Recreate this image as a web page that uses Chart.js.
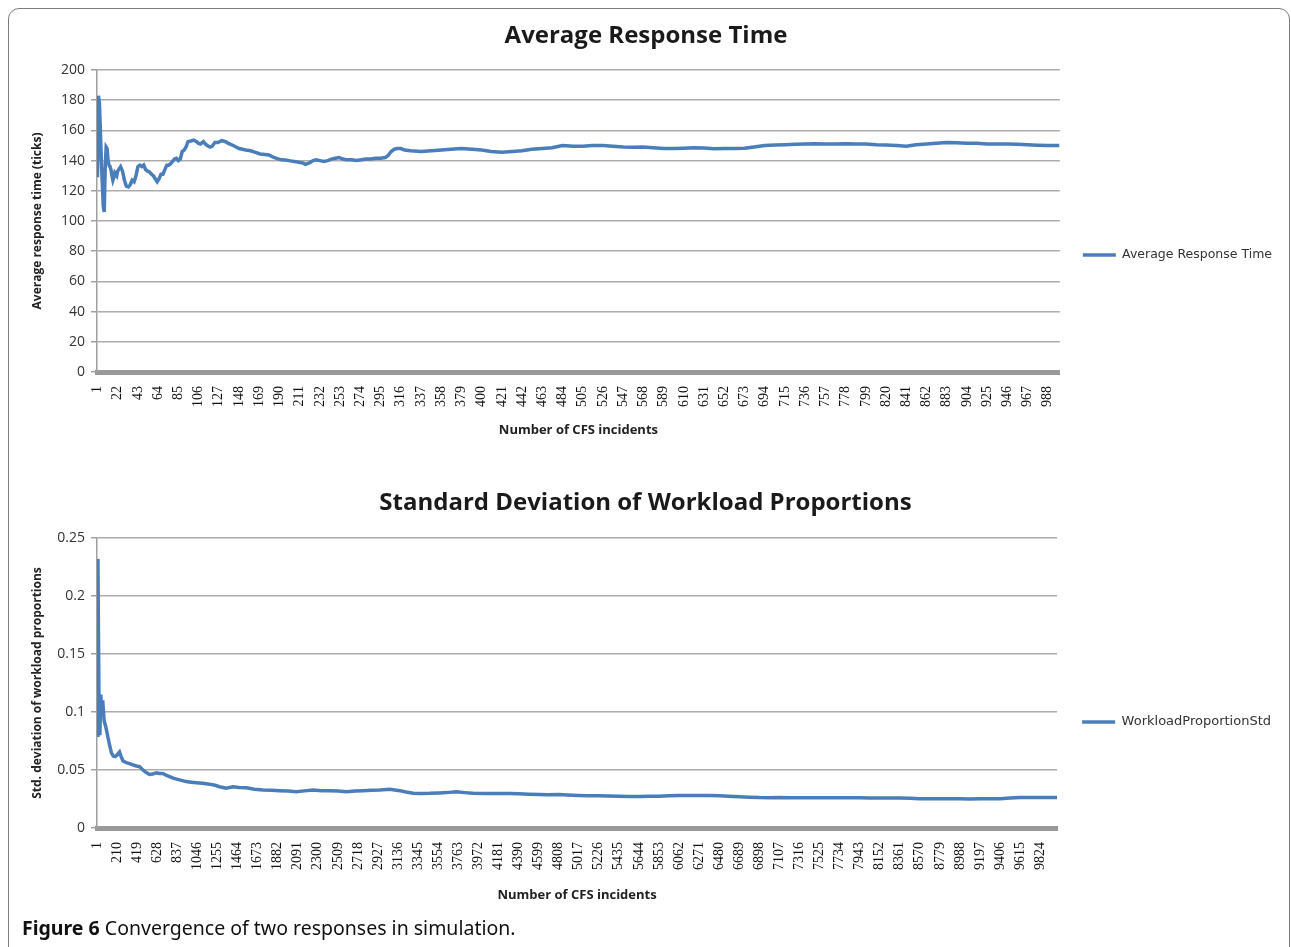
<!DOCTYPE html>
<html>
<head>
<meta charset="utf-8">
<title>Convergence of two responses in simulation</title>
<script src="https://cdn.jsdelivr.net/npm/chart.js@4.4.1/dist/chart.umd.min.js"></script>
<style>
  html, body { margin: 0; padding: 0; background: #fff; width: 1291px; height: 947px; overflow: hidden; }
  .frame { position: absolute; left: 8px; top: 8px; width: 1282px; height: 980px; border: 1.5px solid #7d7d7d; border-radius: 11px; box-sizing: border-box; }
  canvas { position: absolute; left: 10px; }
  #responseChart { top: 12px; }
  #workloadChart { top: 485px; }
  .caption { position: absolute; left: 22px; top: 914px; font-family: "Noto Sans", sans-serif; font-size: 19.5px; color: #111; white-space: nowrap; }
  .caption b { font-weight: 700; }
</style>
</head>
<body>
<div class="frame"></div>
<canvas id="responseChart" width="1280" height="486"></canvas>
<canvas id="workloadChart" width="1280" height="474"></canvas>
<div class="caption"><b>Figure 6</b> Convergence of two responses in simulation.</div>
<script>
// ---- Average response time (ticks) vs. number of CFS incidents ----
const responseTicks = [1, 22, 43, 64, 85, 106, 127, 148, 169, 190, 211, 232, 253, 274, 295, 316,
  337, 358, 379, 400, 421, 442, 463, 484, 505, 526, 547, 568, 589, 610, 631, 652, 673, 694, 715,
  736, 757, 778, 799, 820, 841, 862, 883, 904, 925, 946, 967, 988];

const responseX = [1, 2, 3, 4, 5, 6, 7, 8, 9, 10, 11, 12, 13, 14, 15, 16, 17, 18, 19, 20, 21, 22,
  24, 25, 27, 29, 31, 33, 35, 37, 39, 41, 43, 45, 47, 49, 51, 53, 55, 57, 59, 61, 63, 65, 67, 69,
  71, 73, 75, 77, 79, 81, 83, 85, 87, 89, 91, 93, 95, 98, 101, 104, 106, 108, 111, 113, 115, 118,
  120, 123, 126, 130, 134, 137, 142, 148, 155, 160, 165, 170, 175, 179, 183, 187, 192, 196, 200,
  204, 207, 211, 214, 217, 221, 225, 228, 232, 236, 240, 244, 248, 252, 256, 260, 265, 270, 275,
  280, 285, 290, 295, 300, 303, 306, 309, 312, 316, 320, 326, 337, 348, 358, 368, 379, 390, 400,
  410, 421, 432, 442, 452, 463, 473, 484, 495, 505, 515, 526, 536, 547, 557, 568, 578, 589, 600,
  610, 620, 631, 641, 652, 662, 673, 683, 694, 705, 715, 726, 736, 746, 757, 767, 778, 788, 799,
  810, 820, 831, 841, 851, 862, 872, 883, 893, 904, 914, 925, 935, 946, 956, 967, 977, 988, 1000];

const responseY = [129, 183, 178, 160, 140, 125, 110, 106, 135, 149, 148, 140, 137, 136, 134, 130,
  127, 129, 132, 131, 130, 133, 135, 136, 133, 127, 123, 122.5, 124, 127, 126, 130, 136, 137, 136,
  137, 134, 133, 132.5, 131, 130, 128, 126, 128, 131, 131, 134, 137, 137, 138, 139.5, 141, 141.5,
  140, 141, 146, 147, 149, 152.5, 153, 153.6, 152.5, 151.4, 151, 152.5, 151, 150, 149, 149.5, 152,
  152, 153.2, 152.5, 151.4, 150, 148, 147, 146.5, 145.5, 144.4, 144, 143.7, 142.5, 141.5, 140.5,
  140.4, 140, 139.5, 139.3, 138.7, 138.5, 137.5, 138.5, 140, 140.5, 140, 139.5, 140, 141, 141.5,
  142, 141, 140.5, 140.5, 140, 140.5, 141, 141, 141.5, 141.5, 142, 143.5, 146, 147.5, 148, 148,
  147, 146.5, 146, 146.5, 147, 147.5, 148, 147.5, 147, 146, 145.5, 146, 146.5, 147.5, 148, 148.5,
  150, 149.5, 149.5, 150, 150, 149.5, 149, 148.8, 149, 148.5, 148, 148, 148.2, 148.5, 148.3, 147.8,
  148, 148, 148.2, 149, 150, 150.3, 150.5, 150.8, 151, 151.2, 151, 151, 151.2, 151, 151, 150.5,
  150.3, 150, 149.5, 150.5, 151, 151.5, 152, 151.8, 151.5, 151.5, 151, 151, 151, 150.8, 150.5,
  150.2, 150, 150];

// ---- Standard deviation of workload proportions vs. number of CFS incidents ----
const workloadTicks = [1, 210, 419, 628, 837, 1046, 1255, 1464, 1673, 1882, 2091, 2300, 2509,
  2718, 2927, 3136, 3345, 3554, 3763, 3972, 4181, 4390, 4599, 4808, 5017, 5226, 5435, 5644, 5853,
  6062, 6271, 6480, 6689, 6898, 7107, 7316, 7525, 7734, 7943, 8152, 8361, 8570, 8779, 8988, 9197,
  9406, 9615, 9824];

const workloadX = [1, 10, 20, 30, 40, 50, 60, 75, 90, 110, 130, 150, 170, 190, 210, 235, 250, 270,
  300, 340, 374, 410, 443, 478, 510, 547, 580, 617, 650, 686, 720, 756, 800, 860, 930, 980, 1034,
  1100, 1173, 1230, 1277, 1347, 1416, 1480, 1556, 1640, 1729, 1820, 1903, 1990, 2077, 2160, 2250,
  2340, 2424, 2510, 2598, 2690, 2772, 2860, 2946, 3050, 3154, 3220, 3293, 3380, 3467, 3560, 3641,
  3745, 3830, 3919, 4050, 4181, 4300, 4390, 4500, 4599, 4700, 4808, 4900, 5017, 5120, 5226, 5330,
  5435, 5540, 5644, 5750, 5853, 5960, 6062, 6170, 6271, 6380, 6480, 6580, 6689, 6800, 6898, 7000,
  7107, 7210, 7316, 7420, 7525, 7630, 7734, 7840, 7943, 8050, 8152, 8260, 8361, 8470, 8570, 8680,
  8779, 8880, 8988, 9090, 9197, 9300, 9406, 9510, 9615, 9720, 9824, 9920, 10000];

const workloadY = [0.08, 0.232, 0.12, 0.08, 0.115, 0.098, 0.11, 0.092, 0.088, 0.08, 0.072, 0.065,
  0.062, 0.0615, 0.063, 0.0655, 0.062, 0.058, 0.0565, 0.0555, 0.0545, 0.0535, 0.053, 0.05, 0.048,
  0.0462, 0.0465, 0.0475, 0.047, 0.047, 0.0455, 0.0443, 0.0428, 0.0415, 0.04, 0.0395, 0.039,
  0.0385, 0.0378, 0.0368, 0.0356, 0.0343, 0.0355, 0.035, 0.0347, 0.0335, 0.0328, 0.0325, 0.0322,
  0.0318, 0.0313, 0.032, 0.0327, 0.0322, 0.0322, 0.0318, 0.0313, 0.0318, 0.0322, 0.0325, 0.0328,
  0.0334, 0.0322, 0.031, 0.03, 0.0298, 0.0299, 0.0302, 0.0305, 0.0312, 0.0305, 0.0299, 0.0298,
  0.0298, 0.0297, 0.0296, 0.0292, 0.0289, 0.0287, 0.0288, 0.0284, 0.0281, 0.0279, 0.0278, 0.0275,
  0.0273, 0.0272, 0.0272, 0.0273, 0.0274, 0.0277, 0.028, 0.0281, 0.0281, 0.028, 0.0277, 0.0274,
  0.027, 0.0265, 0.0262, 0.0261, 0.0262, 0.0261, 0.026, 0.026, 0.0261, 0.0261, 0.0261, 0.026,
  0.026, 0.0259, 0.0258, 0.0258, 0.0259, 0.0257, 0.0253, 0.0252, 0.0252, 0.0252, 0.0252, 0.0251,
  0.0252, 0.0253, 0.0253, 0.0258, 0.0262, 0.0262, 0.0262, 0.0264, 0.0263];

const LINE_BLUE = '#4a7ebb';
const GRID_GRAY = '#acacac';
const AXIS_GRAY = '#a0a0a0';

function drawConvergence(canvasId, p) {
  const points = p.xs.map((x, i) => ({ x: x, y: p.ys[i] }));
  return new Chart(document.getElementById(canvasId), {
    type: 'line',
    data: {
      datasets: [{
        label: p.seriesName,
        data: points,
        borderColor: LINE_BLUE,
        backgroundColor: LINE_BLUE,
        borderWidth: 3.5,
        pointRadius: 0,
        tension: 0,
        fill: false
      }]
    },
    options: {
      responsive: false,
      animation: false,
      devicePixelRatio: 1,
      layout: { padding: { left: 0, right: p.padRight, top: 0, bottom: 0 } },
      plugins: {
        tooltip: { enabled: false },
        title: {
          display: true,
          text: p.title,
          color: '#1a1a1a',
          font: { family: 'Open Sans', size: 24, weight: 'bold' },
          padding: { top: p.titleTop, bottom: p.titleBottom }
        },
        legend: {
          position: 'right',
          labels: {
            usePointStyle: true,
            pointStyle: 'line',
            pointStyleWidth: 33,
            boxHeight: 12,
            padding: p.legendPad,
            color: '#333',
            font: { family: 'DejaVu Sans', size: p.legendSize }
          }
        }
      },
      scales: {
        x: {
          type: 'linear',
          min: 0.5,
          max: p.xMax,
          afterBuildTicks: (scale) => { scale.ticks = p.ticks.map(v => ({ value: v })); },
          afterFit: (scale) => { scale.height = p.xHeight; },
          grid: { display: false, drawTicks: false },
          border: { display: true, color: '#999999', width: 5 },
          ticks: {
            autoSkip: false,
            minRotation: 90,
            maxRotation: 90,
            padding: 14,
            color: '#111',
            font: { family: 'Liberation Serif', size: 14 },
            callback: (v) => String(v)
          },
          title: {
            display: true,
            text: 'Number of CFS incidents',
            color: '#222',
            font: { family: 'Open Sans', size: 13, weight: 'bold' },
            padding: { top: 0, bottom: p.xTitleBottom }
          }
        },
        y: {
          min: 0,
          max: p.yMax,
          afterFit: (scale) => { scale.width = 87; },
          grid: { color: GRID_GRAY, lineWidth: 1.5, tickLength: 6, tickColor: AXIS_GRAY },
          border: { color: AXIS_GRAY, width: 1.5 },
          ticks: {
            stepSize: p.yStep,
            padding: 6,
            color: '#333',
            font: { family: 'Open Sans', size: 14 },
            callback: (v) => String(Number(v.toFixed(2)))
          },
          title: {
            display: true,
            text: p.yTitle,
            color: '#222',
            font: { family: 'Open Sans', size: 12, weight: 'bold' },
            padding: { top: 20, bottom: 0 }
          }
        }
      }
    }
  });
}

drawConvergence('responseChart', {
  title: 'Average Response Time',
  seriesName: 'Average Response Time',
  yTitle: 'Average response time (ticks)',
  xs: responseX, ys: responseY, ticks: responseTicks,
  xMax: 1000.5, yMax: 200, yStep: 20,
  titleTop: 9.6, titleBottom: 19.6,
  xHeight: 126, xTitleBottom: 60,
  legendPad: 23, padRight: 8, legendSize: 12.5
});

drawConvergence('workloadChart', {
  title: 'Standard Deviation of Workload Proportions',
  seriesName: 'WorkloadProportionStd',
  yTitle: 'Std. deviation of workload proportions',
  xs: workloadX, ys: workloadY, ticks: workloadTicks,
  xMax: 10000.5, yMax: 0.25, yStep: 0.05,
  titleTop: 3.6, titleBottom: 20.6,
  xHeight: 131, xTitleBottom: 56,
  legendPad: 25, padRight: 9, legendSize: 13
});
</script>
</body>
</html>
